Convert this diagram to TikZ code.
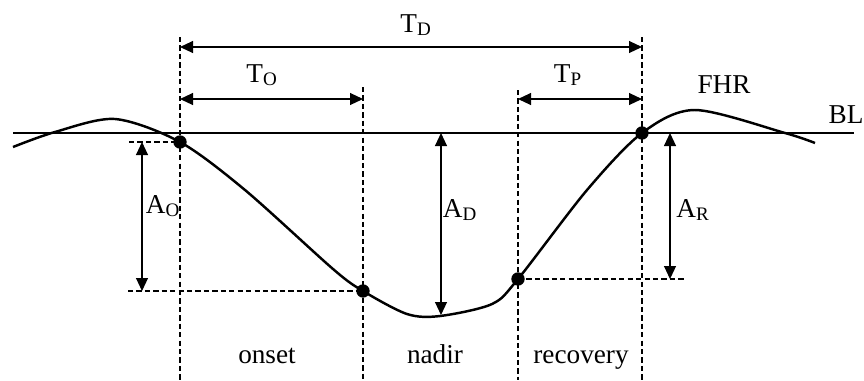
\documentclass[tikz,border=0pt]{standalone}
\usepackage{fontspec}
\setmainfont{Liberation Serif}
\usepackage{tikz}
\usetikzlibrary{arrows.meta, positioning, calc}
\tikzset{
  trace/.style={line width=1.4pt, line join=round},
  guide/.style={line width=0.6pt, dash pattern=on 3pt off 1.8pt},
  dimarrow/.style={{Triangle[length=7.4pt, width=6.8pt]}-{Triangle[length=7.4pt, width=6.8pt]}, line width=0.7pt},
  dot/.style={circle, fill=black, inner sep=0pt, minimum size=7.6pt},
  lbl/.style={font=\fontsize{15.5}{18}\selectfont, anchor=base, inner sep=0pt}
}

\begin{document}
\begin{tikzpicture}[x=0.02cm, y=-0.02cm]
  \useasboundingbox (0,0) rectangle (864,380);

  % Baseline
  \coordinate (blL) at (13,133);
  \coordinate (blR) at (854,133);
  \draw[trace] (blL) -- (blR);
  \node[lbl] (bl) at (846,123) {BL};

  % FHR trace
  \draw[trace] plot[smooth, tension=0.5] coordinates {
    (13,147) (55,132) (115,119) (180,142) (245,190) (333,269) (363,291)
    (407,314) (440,316) (492,304) (518,279) (587,190) (642,133)
    (695,110) (785,133) (815,143)};
  \node[lbl] (fhr) at (724,93) {FHR};

  % Phase points
  \node[dot] (onsetpt) at (180,142) {};
  \node[dot] (nadirpt) at (363,291) {};
  \node[dot] (recpt) at (518,279) {};
  \node[dot] (endpt) at (642,133) {};

  % Vertical guides
  \coordinate (g1top) at (180,37);  \coordinate (g1bot) at (180,380);
  \coordinate (g2top) at (363,87);  \coordinate (g2bot) at (363,380);
  \coordinate (g3top) at (518,90);  \coordinate (g3bot) at (518,380);
  \coordinate (g4top) at (642,37);  \coordinate (g4bot) at (642,380);
  \draw[guide] (g1top) -- (g1bot);
  \draw[guide] (g2top) -- (g2bot);
  \draw[guide] (g3top) -- (g3bot);
  \draw[guide] (g4top) -- (g4bot);

  % Horizontal guides
  \coordinate (hoL) at (129,142);
  \coordinate (hnL) at (128,291);
  \coordinate (hrR) at (684,279);
  \draw[guide] (hoL) -- (onsetpt.center);
  \draw[guide] (hnL) -- (nadirpt.center);
  \draw[guide] (recpt.center) -- (hrR);

  % Durations
  \coordinate (tdL) at (180,47);  \coordinate (tdR) at (642,47);
  \coordinate (toL) at (180,99);  \coordinate (toR) at (363,99);
  \coordinate (tpL) at (518,99);  \coordinate (tpR) at (642,99);
  \draw[dimarrow] (tdL) -- (tdR);
  \draw[dimarrow] (toL) -- (toR);
  \draw[dimarrow] (tpL) -- (tpR);
  \node[lbl] (td) at (416,32) {T\textsubscript{D}};
  \node[lbl] (to) at (262,82) {T\textsubscript{O}};
  \node[lbl] (tp) at (568,82) {T\textsubscript{P}};

  % Amplitudes
  \coordinate (aoT) at (142,142); \coordinate (aoB) at (142,291);
  \coordinate (adT) at (441,133); \coordinate (adB) at (441,315);
  \coordinate (arT) at (670,133); \coordinate (arB) at (670,279);
  \draw[dimarrow] (aoT) -- (aoB);
  \draw[dimarrow] (adT) -- (adB);
  \draw[dimarrow] (arT) -- (arB);
  \node[lbl] (ao) at (163,213) {A\textsubscript{O}};
  \node[lbl] (ad) at (460,217) {A\textsubscript{D}};
  \node[lbl] (ar) at (693,217) {A\textsubscript{R}};

  % Phase names
  \node[lbl] (onset) at (267,363) {onset};
  \node[lbl] (nadir) at (435,363) {nadir};
  \node[lbl] (recovery) at (581,363) {recovery};
\end{tikzpicture}
\end{document}
